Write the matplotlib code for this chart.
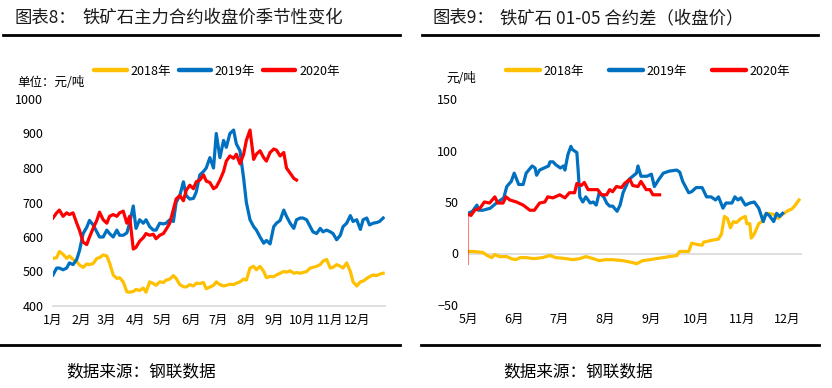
import matplotlib
matplotlib.use('Agg')
import matplotlib.pyplot as plt
from matplotlib.lines import Line2D

plt.rcParams['font.family'] = ['Noto Sans CJK SC', 'DejaVu Sans']

# ---------------- data: chart 8 (seasonal close price, day of year) ----------------
days_left = [1, 5, 8, 12, 16, 19, 23, 27, 30, 34, 38, 41, 45, 49, 52, 56, 60, 63, 67, 71,
             74, 78, 82, 85, 89, 92, 96, 100, 103, 107, 111, 114, 118, 122, 125, 129, 133, 136, 140, 144,
             147, 151, 155, 158, 162, 166, 169, 173, 177, 180, 184, 188, 191, 195, 199, 202, 206, 210, 213, 217,
             221, 224, 228, 232, 235, 239, 243, 246, 250, 254, 257, 261, 265, 268, 272, 275, 279, 283, 286, 290,
             294, 297, 301, 305, 308, 312, 316, 319, 323, 327, 330, 334, 338, 341, 345, 348, 352, 356, 359, 363]

price_2018 = [538, 540, 558, 550, 538, 545, 535, 529, 519, 512, 522, 520, 523, 538, 540, 548, 545, 525, 490, 480,
              482, 470, 441, 440, 442, 448, 445, 452, 440, 470, 465, 460, 470, 468, 475, 478, 488, 480, 462, 456,
              455, 462, 458, 466, 465, 468, 450, 455, 460, 470, 462, 458, 460, 463, 462, 466, 470, 478, 475, 510,
              515, 505, 515, 500, 482, 486, 485, 490, 495, 500, 498, 502, 495, 497, 495, 497, 500, 510, 512, 515,
              520, 530, 535, 510, 512, 520, 515, 510, 525, 500, 470, 458, 470, 472, 480, 485, 490, 488, 492, 495]

price_2019 = [490, 510, 510, 505, 510, 525, 520, 535, 560, 610, 628, 648, 635, 615, 600, 600, 620, 610, 600, 620,
              605, 605, 612, 640, 690, 625, 650, 640, 650, 630, 620, 620, 640, 638, 640, 650, 645, 700, 720, 760,
              720, 710, 712, 730, 780, 790, 800, 830, 800, 900, 830, 880, 860, 900, 910, 870, 850, 770, 700, 650,
              630, 620, 600, 582, 590, 580, 630, 640, 648, 678, 660, 640, 625, 650, 655, 655, 650, 630, 615, 610,
              625, 615, 620, 615, 610, 592, 605, 630, 640, 662, 645, 650, 622, 650, 655, 635, 640, 642, 645, 655]

price_2020 = [655, 670, 678, 660, 670, 665, 670, 640, 620, 585, 578, 600, 625, 648, 672, 650, 640, 660, 665, 660,
              670, 675, 640, 660, 565, 570, 588, 598, 610, 605, 608, 595, 605, 610, 622, 640, 680, 710, 720, 705,
              735, 750, 740, 760, 765, 780, 762, 758, 740, 745, 765, 790, 820, 835, 828, 840, 812, 840, 880, 910,
              825, 840, 850, 830, 820, 845, 855, 852, 835, 845, 800, 785, 770, 765]

month_starts_left = [1, 32, 60, 91, 121, 152, 182, 213, 244, 274, 305, 335]
month_labels_left = ['1月', '2月', '3月', '4月', '5月', '6月', '7月', '8月', '9月', '10月', '11月', '12月']

# ---------------- data: chart 9 (01-05 spread, day of year) ----------------
spread_days_2018 = [121, 124, 131, 134, 137, 139, 142, 147, 150, 153, 156, 160, 165, 171, 176, 180, 187, 191, 196, 200,
                    205, 209, 213, 218, 225, 232, 234, 238, 243, 247, 252, 256, 261, 263, 266, 269, 271, 274, 278, 279,
                    282, 285, 289, 291, 293, 295, 297, 299, 301, 304, 307, 308, 310, 311, 313, 316, 318, 320, 322, 326,
                    329, 331, 333, 336, 338, 340, 343]
spread_2018 = [2, 2, 1, -2, -4, -1, -3, -3, -5, -6, -4, -4, -5, -4, -2, -4, -5, -6, -5, -3,
               -5, -7, -6, -6, -7, -9, -10, -7, -6, -5, -4, -3, -2, 2, 2, 2, 10, 9, 8, 11,
               12, 13, 14, 19, 36, 34, 25, 31, 30, 34, 36, 29, 29, 15, 19, 29, 31, 37, 39, 38,
               34, 37, 39, 42, 43, 46, 52]

spread_days_2019 = [121, 124, 127, 128, 131, 136, 140, 145, 147, 150, 152, 155, 158, 160, 164, 166, 167, 169, 172, 175,
                    176, 178, 180, 183, 185, 186, 188, 190, 191, 194, 195, 196, 198, 200, 203, 205, 207, 209, 212, 214,
                    216, 218, 221, 223, 225, 229, 234, 235, 237, 241, 244, 246, 249, 252, 256, 261, 263, 265, 269, 271,
                    274, 278, 281, 284, 287, 289, 292, 294, 298, 300, 302, 304, 307, 310, 313, 316, 319, 321, 323, 326,
                    328, 330, 332]
spread_2019 = [39, 41, 47, 42, 42, 44, 49, 54, 65, 70, 78, 67, 67, 78, 85, 83, 76, 81, 83, 85,
               89, 89, 86, 83, 85, 81, 96, 104, 101, 98, 78, 55, 50, 55, 49, 50, 47, 59, 55, 49,
               46, 46, 41, 47, 59, 72, 78, 85, 75, 75, 77, 65, 72, 78, 80, 81, 79, 70, 59, 60,
               64, 64, 55, 55, 52, 55, 44, 49, 49, 55, 52, 54, 47, 49, 50, 44, 31, 39, 37, 31,
               39, 36, 39]

spread_days_2020 = [121, 123, 125.5, 129, 132, 135.5, 139, 141, 144.5, 146.5, 149, 153.5, 158, 162.5, 165.5, 169, 172.5,
                    174.5, 178, 182.5, 186, 189, 192.5, 194, 197, 199, 201.5, 205, 208, 210.5, 214, 216, 218, 220.5,
                    224, 226, 229.5, 231.5, 235, 237, 240.5, 243, 245, 249.5]
spread_2020 = [38, 37, 42, 44, 50, 49, 55, 49, 49, 55, 52, 50, 47, 42, 42, 49, 50, 55, 54, 57,
               54, 59, 59, 68, 66, 69, 62, 62, 62, 57, 57, 62, 60, 65, 64, 68, 72, 66, 65, 70,
               62, 62, 57, 57]
spread_2020_start_low = -10

month_starts_right = [121, 152, 182, 213, 244, 274, 305, 335]
month_labels_right = ['5月', '6月', '7月', '8月', '9月', '10月', '11月', '12月']

years = ['2018年', '2019年', '2020年']
colors = ['#FFC000', '#0070C0', '#FF0000']

# ---------------- figure ----------------
W, H = 832, 388
fig = plt.figure(figsize=(W / 100, H / 100), dpi=100)


def rect(x0, x1, ytop, ybot):
    return [x0 / W, 1 - ybot / H, (x1 - x0) / W, (ybot - ytop) / H]


def style(ax):
    for s in ax.spines.values():
        s.set_visible(False)
    ax.tick_params(length=0, labelsize=9, colors='#000000')
    ax.tick_params(axis='y', pad=7)
    ax.tick_params(axis='x', pad=6)


LW = 2.3

# ---- left chart ----
ax1 = fig.add_axes(rect(53, 385, 99, 306))
ax1.plot(days_left, price_2018, color=colors[0], lw=LW, solid_joinstyle='round')
ax1.plot(days_left, price_2019, color=colors[1], lw=LW, solid_joinstyle='round')
ax1.plot(days_left[:len(price_2020)], price_2020, color=colors[2], lw=LW, solid_joinstyle='round')
ax1.set_xlim(1, 365)
ax1.set_ylim(400, 1000)
ax1.set_yticks([400, 500, 600, 700, 800, 900, 1000])
ax1.set_xticks(month_starts_left)
ax1.set_xticklabels(month_labels_left)
style(ax1)
ax1.axhline(400, color='#d9d9d9', lw=1.2, clip_on=False, zorder=0)

# ---- right chart ----
ax2 = fig.add_axes(rect(468, 802, 99, 305))
ax2.axhline(0, color='#d9d9d9', lw=1.2, zorder=0)
ax2.plot(spread_days_2018, spread_2018, color=colors[0], lw=LW, solid_joinstyle='round')
ax2.plot(spread_days_2019, spread_2019, color=colors[1], lw=LW, solid_joinstyle='round')
ax2.plot([spread_days_2020[0], spread_days_2020[0]], [spread_2020[0], spread_2020_start_low],
         color=colors[2], lw=0.8, alpha=0.5)
ax2.plot(spread_days_2020, spread_2020, color=colors[2], lw=LW, solid_joinstyle='round')
ax2.set_xlim(121, 345)
ax2.set_ylim(-50, 150)
ax2.set_yticks([-50, 0, 50, 100, 150])
ax2.set_xticks(month_starts_right)
ax2.set_xticklabels(month_labels_right)
style(ax2)

# ---- legends ----
handles = [Line2D([], [], color=c, lw=3.2, solid_capstyle='round') for c in colors]
fig.legend(handles, years, loc='center', bbox_to_anchor=(217 / W, 1 - 71 / H), ncol=3, frameon=False,
           fontsize=9, handlelength=2.6, handletextpad=0.3, columnspacing=0.6, borderaxespad=0, borderpad=0)
fig.legend(handles, years, loc='center', bbox_to_anchor=(648 / W, 1 - 71 / H), ncol=3, frameon=False,
           fontsize=9, handlelength=2.7, handletextpad=0.3, columnspacing=2.0, borderaxespad=0, borderpad=0)

# ---- units ----
fig.text(17 / W, 1 - 83 / H, '单位：元/吨', fontsize=9, va='center', ha='left')
fig.text(446 / W, 1 - 78 / H, '元/吨', fontsize=9, va='center', ha='left')

# ---- titles ----
fig.text(14 / W, 1 - 18 / H, '图表8：', fontsize=12.5, va='center', ha='left', color='#1a1a1a')
fig.text(82 / W, 1 - 18 / H, '铁矿石主力合约收盘价季节性变化', fontsize=12.5, va='center', ha='left', color='#1a1a1a')
fig.text(433 / W, 1 - 18 / H, '图表9：', fontsize=12.5, va='center', ha='left', color='#1a1a1a')
fig.text(500 / W, 1 - 18 / H, '铁矿石 01-05 合约差（收盘价）', fontsize=12.5, va='center', ha='left', color='#1a1a1a')

# ---- rules ----
for (x0, x1, y) in [(3, 400, 35), (422, 818, 35), (0, 400, 345), (421, 819, 345)]:
    fig.add_artist(Line2D([x0 / W, x1 / W], [1 - y / H, 1 - y / H], color='black', lw=2.0))

# ---- sources ----
fig.text(66 / W, 1 - 372 / H, '数据来源：钢联数据', fontsize=12, va='center', ha='left')
fig.text(503 / W, 1 - 372 / H, '数据来源：钢联数据', fontsize=12, va='center', ha='left')

fig.savefig('out.png', dpi=100)
